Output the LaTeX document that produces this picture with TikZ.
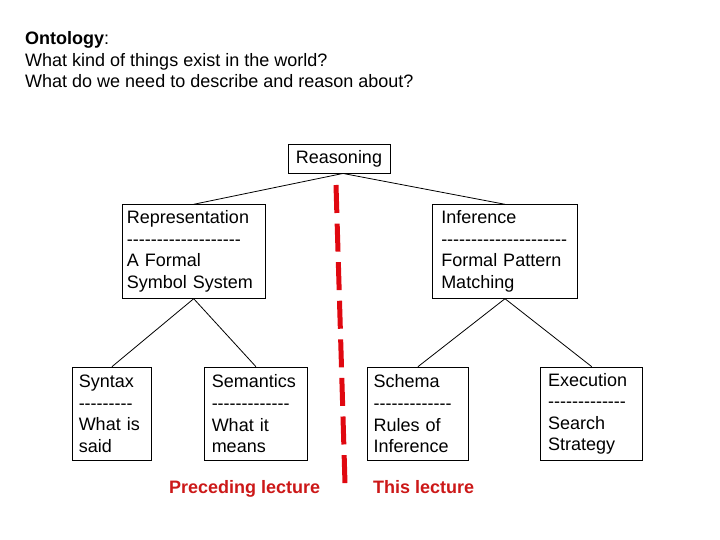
\documentclass[tikz,border=0pt]{standalone}
\usepackage{fontspec}
\newfontfamily\arial{Liberation Sans}
\definecolor{cutred}{RGB}{224,8,16}
\definecolor{labred}{RGB}{204,24,24}
\begin{document}
\begin{tikzpicture}[x=1pt,y=-1pt,
  every node/.style={font=\arial\fontsize{18}{21.6}\selectfont},
  box/.style={draw, line width=0.9pt, anchor=north west, align=left, inner ysep=0pt, minimum height=93.5pt},
  link/.style={draw, line width=0.8pt},
  cutline/.style={draw=cutred, line width=5pt, dash pattern=on 28pt off 10.6pt},
  lab/.style={text=labred, font=\arial\bfseries\fontsize{18}{21.6}\selectfont, anchor=base west, inner sep=0pt}]
\useasboundingbox (0,0) rectangle (720,540);

\node[anchor=north west, align=left, inner sep=0pt] (onto) at (25,31.5)
  {\textbf{Ontology}:\\What kind of things exist in the world?\\What do we need to describe and reason about?};

\node[draw, line width=0.9pt, minimum width=102pt, minimum height=29pt, inner sep=0pt] (reason) at (339,158.5) {Reasoning};

\node[box, text width=133.5pt, inner xsep=5pt] (rep) at (121.5,204.3)
  {Representation\\\mbox{-------------------}\\A Formal\\Symbol System};
\node[box, text width=127.5pt, inner xsep=8.5pt] (inf) at (432.3,204.3)
  {Inference\\\mbox{---------------------}\\Formal Pattern\\Matching};

\node[box, text width=66.4pt, inner xsep=6pt] (syn) at (72.3,366.7)
  {Syntax\\\mbox{---------}\\What is\\said};
\node[box, text width=88.4pt, inner xsep=7pt] (sem) at (204.3,366.7)
  {Semantics\\\mbox{-------------}\\What it\\means};
\node[box, text width=88.6pt, inner xsep=6.5pt] (sch) at (366.7,366.7)
  {Schema\\\mbox{-------------}\\Rules of\\Inference};
\node[box, text width=87.4pt, inner xsep=7.3pt] (exe) at (540.3,366.7)
  {Execution\\\mbox{-------------}\\Search\\Strategy};

\draw[link] ([xshift=4pt]reason.south) -- (rep.north);
\draw[link] ([xshift=4pt]reason.south) -- (inf.north);
\draw[link] (rep.south) -- (syn.north);
\draw[link] (rep.south) -- (sem.north);
\draw[link] (inf.south) -- (sch.north);
\draw[link] (inf.south) -- (exe.north);

\coordinate (cuttop) at (336,185);
\coordinate (cutbot) at (345,483.5);
\draw[cutline] (cuttop) -- (cutbot);

\node[lab] (prev) at (169,493) {Preceding lecture};
\node[lab] (this) at (373,493) {This lecture};
\end{tikzpicture}
\end{document}
